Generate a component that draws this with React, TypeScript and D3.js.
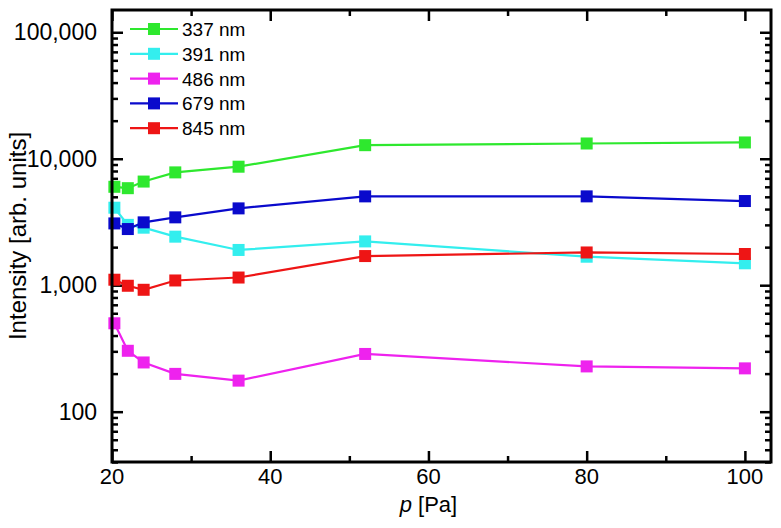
import React, { useEffect, useRef } from 'react';
import * as d3 from 'd3';

// pressure p [Pa]
const pressure = [20.3, 22, 24, 28, 36, 52, 80, 100];

// intensities [arb. units] per wavelength
const i337 = [6000, 5850, 6600, 7800, 8650, 12800, 13200, 13450];
const i391 = [4100, 3000, 2850, 2420, 1900, 2220, 1680, 1490];
const i486 = [500, 303, 245, 199, 176, 286, 228, 220];
const i679 = [3080, 2780, 3140, 3440, 4050, 5040, 5040, 4630];
const i845 = [1105, 990, 920, 1090, 1150, 1700, 1815, 1765];

const seriesNames = ['337 nm', '391 nm', '486 nm', '679 nm', '845 nm'];
const seriesValues = [i337, i391, i486, i679, i845];
const seriesColors = ['#2ee82e', '#33eeee', '#ee22ee', '#0a0acc', '#ee1515'];

const xTicksMajor = [20, 40, 60, 80, 100];
const xTicksMinor = [30, 50, 70, 90];
const yTicksMajor = [100, 1000, 10000, 100000];

const App = () => {
  const ref = useRef<SVGSVGElement>(null);

  useEffect(() => {
    const width = 781;
    const height = 528;
    const margin = { top: 10, left: 112, right: 10, bottom: 66 };
    const gw = width - margin.left - margin.right;
    const gh = height - margin.top - margin.bottom;
    const font = 'Liberation Sans, Arial, sans-serif';

    const svg = d3.select(ref.current).attr('width', width).attr('height', height);
    svg.selectAll('*').remove();

    const xScale = d3.scaleLinear().domain([20, 103.3]).range([0, gw]);
    const yScale = d3.scaleLog().domain([40, 150000]).range([gh, 0]);

    // minor log ticks 2..9 per decade
    const yMinor: number[] = [];
    for (let k = 1; k <= 5; k++) {
      for (let m = 2; m <= 9; m++) {
        const v = m * Math.pow(10, k);
        if (v >= 40 && v <= 150000) yMinor.push(v);
      }
    }

    const graph = svg.append('g').attr('transform', `translate(${margin.left}, ${margin.top})`);

    const styleAxis = (g: any) => {
      g.select('.domain').remove();
      g.selectAll('line').attr('stroke', 'black').attr('stroke-width', 2.5);
      g.selectAll('text').remove();
    };

    // ticks, all pointing into the plot
    graph.append('g').call(d3.axisLeft(yScale).tickValues(yTicksMajor).tickSize(-11)).call(styleAxis);
    graph.append('g').call(d3.axisLeft(yScale).tickValues(yMinor).tickSize(-6)).call(styleAxis);
    graph.append('g').attr('transform', `translate(${gw}, 0)`).call(d3.axisRight(yScale).tickValues(yTicksMajor).tickSize(-11)).call(styleAxis);
    graph.append('g').attr('transform', `translate(${gw}, 0)`).call(d3.axisRight(yScale).tickValues(yMinor).tickSize(-6)).call(styleAxis);
    graph.append('g').attr('transform', `translate(0, ${gh})`).call(d3.axisBottom(xScale).tickValues(xTicksMajor).tickSize(-11)).call(styleAxis);
    graph.append('g').attr('transform', `translate(0, ${gh})`).call(d3.axisBottom(xScale).tickValues(xTicksMinor).tickSize(-6)).call(styleAxis);
    graph.append('g').call(d3.axisTop(xScale).tickValues(xTicksMajor).tickSize(-11)).call(styleAxis);
    graph.append('g').call(d3.axisTop(xScale).tickValues(xTicksMinor).tickSize(-6)).call(styleAxis);

    // tick labels
    svg.append('g').attr('class', 'x_labels').selectAll('text').data(xTicksMajor).join('text')
      .attr('x', (d) => margin.left + xScale(d)).attr('y', 484)
      .attr('text-anchor', 'middle').attr('font-family', font).attr('font-size', 22)
      .text((d) => String(d));
    svg.append('g').attr('class', 'y_labels').selectAll('text').data(yTicksMajor).join('text')
      .attr('x', 97).attr('y', (d) => margin.top + yScale(d) + 8)
      .attr('text-anchor', 'end')
      .attr('font-family', font).attr('font-size', 23)
      .text((d) => d3.format(',')(d));

    // axis titles
    const xt = svg.append('text')
      .attr('x', margin.left + xScale(60)).attr('y', 512)
      .attr('text-anchor', 'middle').attr('font-family', font).attr('font-size', 22);
    xt.append('tspan').attr('font-style', 'italic').text('p');
    xt.append('tspan').text(' [Pa]');
    svg.append('text')
      .attr('transform', `translate(26, ${margin.top + gh / 2}) rotate(-90)`)
      .attr('text-anchor', 'middle').attr('font-family', font).attr('font-size', 24)
      .text('Intensity [arb. units]');

    // series
    const line = d3.line<number>()
      .x((d, i) => xScale(pressure[i]))
      .y((d) => yScale(d));
    const ms = 12;

    seriesValues.forEach((vals, s) => {
      const g = graph.append('g');
      g.append('path').attr('d', line(vals)).attr('fill', 'none')
        .attr('stroke', seriesColors[s]).attr('stroke-width', 2.2);
      g.selectAll('rect').data(vals).join('rect')
        .attr('x', (d, i) => xScale(pressure[i]) - ms / 2)
        .attr('y', (d) => yScale(d) - ms / 2)
        .attr('width', ms).attr('height', ms)
        .attr('fill', seriesColors[s]);
    });

    // frame
    graph.append('rect').attr('width', gw).attr('height', gh)
      .attr('fill', 'none').attr('stroke', 'black').attr('stroke-width', 3);

    // legend
    const legend = svg.append('g').attr('transform', 'translate(130, 29)');
    seriesNames.forEach((name, s) => {
      const row = legend.append('g').attr('transform', `translate(0, ${s * 24.8})`);
      row.append('line').attr('x1', 0).attr('x2', 48).attr('stroke', seriesColors[s]).attr('stroke-width', 2.2);
      row.append('rect').attr('x', 24 - ms / 2).attr('y', -ms / 2).attr('width', ms).attr('height', ms).attr('fill', seriesColors[s]);
      row.append('text').attr('x', 52).attr('y', 7)
        .attr('font-family', font).attr('font-size', 19).text(name);
    });
  }, []);

  return (
    <svg ref={ref} style={{ position: 'absolute', left: 0, top: 0, background: 'white' }}></svg>
  );
};

export default App;
